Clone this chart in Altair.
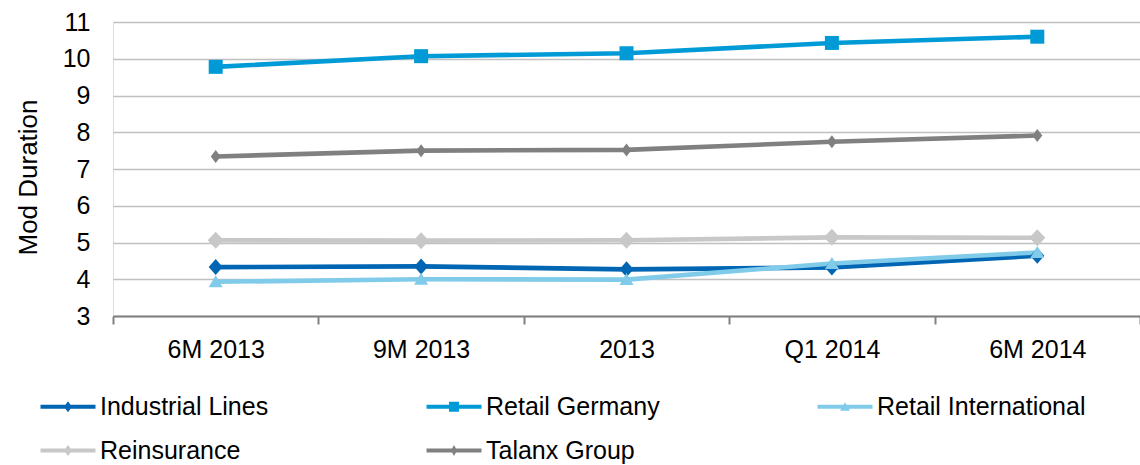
import altair as alt
import pandas as pd

categories = ["6M 2013", "9M 2013", "2013", "Q1 2014", "6M 2014"]
series_names = ["Industrial Lines", "Retail Germany", "Retail International",
                "Reinsurance", "Talanx Group"]
industrial_lines = [4.33, 4.35, 4.27, 4.32, 4.64]
retail_germany = [9.78, 10.07, 10.15, 10.43, 10.60]
retail_international = [3.93, 4.00, 3.99, 4.43, 4.73]
reinsurance = [5.06, 5.05, 5.06, 5.14, 5.13]
talanx_group = [7.34, 7.50, 7.52, 7.74, 7.91]
y_ticks = [3, 4, 5, 6, 7, 8, 9, 10, 11]

colors = ["#0066B3", "#009BD6", "#80CBEA", "#C8C8C8", "#808080"]
marker_paths = [
    "M0,-0.8L0.7,0L0,0.8L-0.7,0Z",
    "M-0.7,-0.7H0.7V0.7H-0.7Z",
    "M0,-0.65L0.7,0.55H-0.7Z",
    "M0,-0.85L0.8,0L0,0.85L-0.8,0Z",
    "M0,-0.65L0.5,0L0,0.65L-0.5,0Z",
]
LEG_LINE = "M-1,-0.2H4.5V0.2H-1Z "
legend_paths = [
    LEG_LINE + "M1.75,-0.55L2.15,0L1.75,0.55L1.35,0Z",
    LEG_LINE + "M1.25,-0.5H2.25V0.5H1.25Z",
    LEG_LINE + "M1.75,-0.45L2.25,0.4H1.25Z",
    LEG_LINE + "M1.75,-0.55L2.15,0L1.75,0.55L1.35,0Z",
    LEG_LINE + "M1.75,-0.55L2.05,0L1.75,0.55L1.45,0Z",
]

values = [industrial_lines, retail_germany, retail_international, reinsurance, talanx_group]
rows = []
for name, vals in zip(series_names, values):
    for cat, v in zip(categories, vals):
        rows.append({"period": cat, "series": name, "value": v})
df = pd.DataFrame(rows)

FONT = "Liberation Sans"
FS = 25

x_enc = alt.X(
    "period:N",
    sort=categories,
    bandPosition=0.5,
    scale=alt.Scale(type="band", paddingInner=0, paddingOuter=0),
    axis=alt.Axis(
        title=None, labelAngle=0, labelFont=FONT, labelFontSize=FS,
        labelColor="#000000", labelPadding=13, tickBand="extent",
        domainColor="#808080", domainWidth=2, tickColor="#808080",
        tickWidth=2, tickSize=8, grid=False,
    ),
)
y_enc = alt.Y(
    "value:Q",
    scale=alt.Scale(domain=[3, 11], nice=False, zero=False),
    axis=alt.Axis(
        title="Mod Duration", values=y_ticks, domain=False, ticks=False,
        grid=True, gridColor="#C0C0C0", gridWidth=1.6,
        labelFont=FONT, labelFontSize=FS, labelColor="#000000", labelPadding=23,
        titleFont=FONT, titleFontSize=26, titleFontWeight="normal",
        titleColor="#000000", titleAngle=270, titleX=-85, titleY=155,
        titleAlign="center", titleBaseline="middle",
    ),
)
color_scale = alt.Scale(domain=series_names, range=colors)

legend_cfg = dict(
    title=None, orient="none", legendX=-75, legendY=372, columns=3,
    direction="horizontal", symbolSize=400, symbolStrokeWidth=0,
    labelFont=FONT, labelFontSize=FS, labelColor="#000000",
    labelOffset=37, labelLimit=400, columnPadding=155, rowPadding=18,
    labelExpr="datum.label == 'Talanx Group' ? '\u00a0\u00a0Talanx Group' : datum.label",
)

lines = alt.Chart(df).mark_line(strokeWidth=4.6).encode(
    x=x_enc, y=y_enc,
    color=alt.Color("series:N", scale=color_scale, legend=None),
)
points = alt.Chart(df).mark_point(filled=True, opacity=1, size=400, strokeWidth=0).encode(
    x=x_enc, y=y_enc,
    color=alt.Color("series:N", scale=color_scale, legend=None),
    shape=alt.Shape("series:N", scale=alt.Scale(domain=series_names, range=marker_paths), legend=None),
)
legend_layer = alt.Chart(df).transform_filter("datum.value > 100").mark_point(
    filled=True, opacity=1, strokeWidth=0
).encode(
    x=x_enc, y=y_enc,
    color=alt.Color("series:N", scale=color_scale, legend=alt.Legend(**legend_cfg)),
    shape=alt.Shape(
        "series:N", scale=alt.Scale(domain=series_names, range=legend_paths),
        legend=alt.Legend(**legend_cfg),
    ),
)

chart = alt.layer(lines, points, legend_layer).resolve_scale(
    color="independent", shape="independent"
).properties(
    width=1027, height=294,
    autosize=alt.AutoSizeParams(type="none"),
    padding={"left": 113, "top": 22, "right": 0, "bottom": 149},
).configure_view(stroke=None).configure(background="#FFFFFF")

chart.save("out.html", embed_options={"renderer": "svg", "actions": False})
